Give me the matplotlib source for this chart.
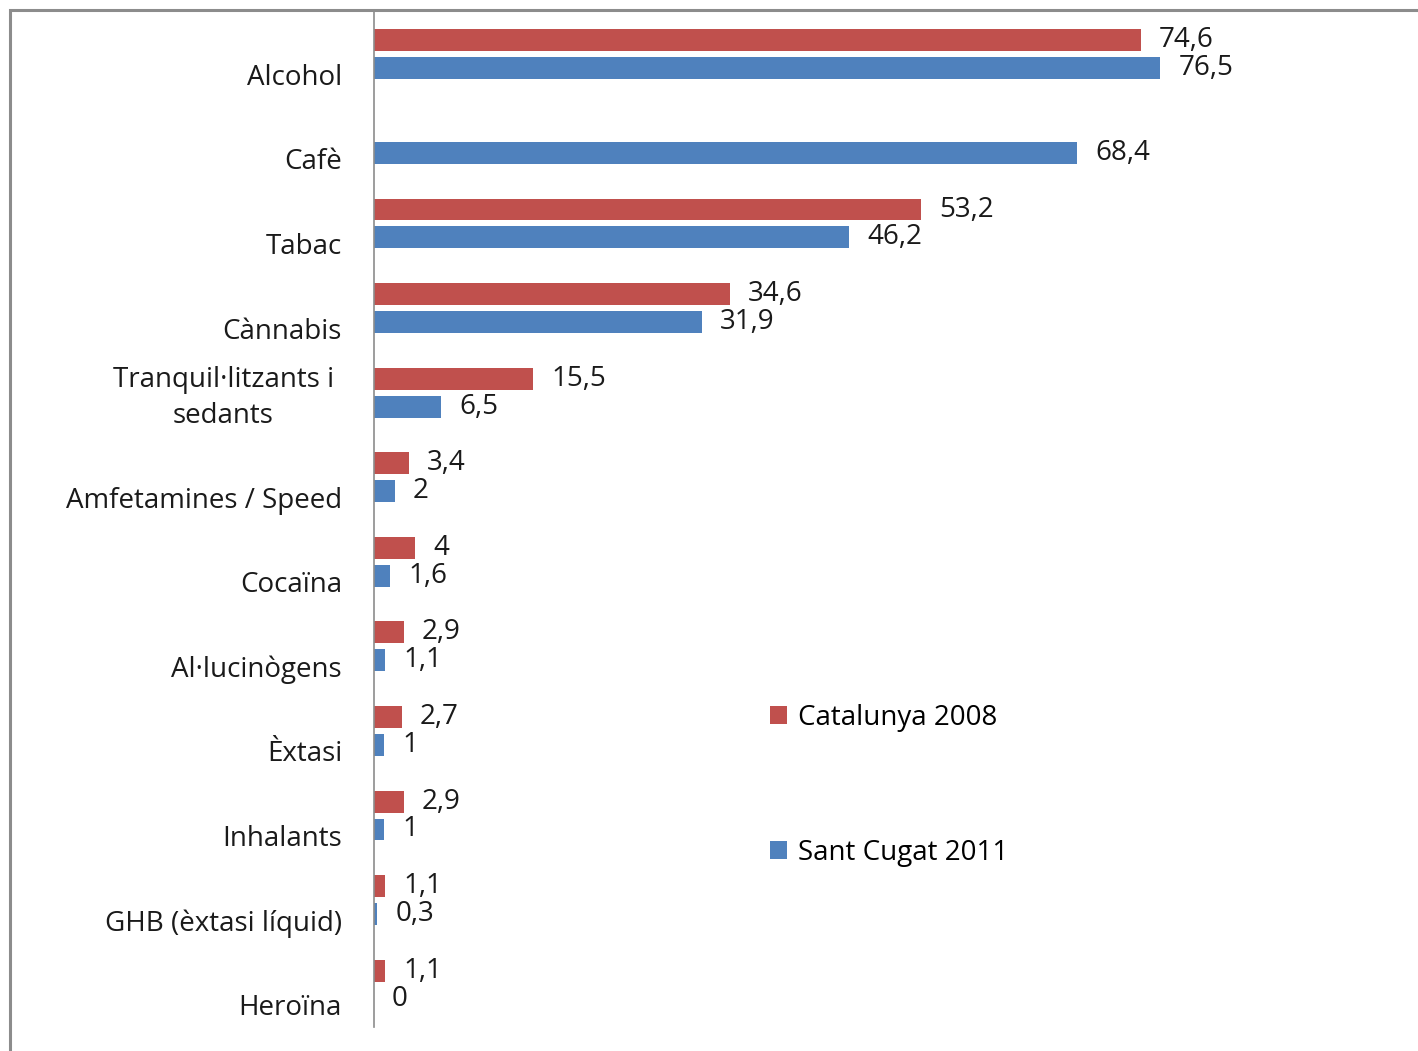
import matplotlib.pyplot as plt
import matplotlib.transforms as mtransforms
import numpy as np

plt.rcParams['font.family'] = ['Open Sans', 'DejaVu Sans']

categories = ['Alcohol', 'Cafè', 'Tabac', 'Cànnabis', 'Tranquil·litzants i\nsedants',
              'Amfetamines / Speed', 'Cocaïna', 'Al·lucinògens', 'Èxtasi',
              'Inhalants', 'GHB (èxtasi líquid)', 'Heroïna']
catalunya_2008 = [74.6, np.nan, 53.2, 34.6, 15.5, 3.4, 4, 2.9, 2.7, 2.9, 1.1, 1.1]
sant_cugat_2011 = [76.5, 68.4, 46.2, 31.9, 6.5, 2, 1.6, 1.1, 1, 1, 0.3, 0]

red = '#C0504D'
blue = '#4F81BD'
fs = 20
txt = '#1a1a1a'


def fmt(v):
    if np.isnan(v):
        return ''
    return f'{v:g}'.replace('.', ',')


fig = plt.figure(figsize=(14.18, 10.51), dpi=100)
ax = fig.add_axes([374 / 1418, 1 - 1027 / 1051, (1402 - 374) / 1418, (1027 - 12) / 1051])

# marco gris alrededor del gráfico
fig.patches.append(plt.Rectangle((9.5 / 1418, -0.05), 1.2, 1 - 10 / 1051 + 0.05,
                                 transform=fig.transFigure, fill=False,
                                 edgecolor='#8c8c8c', linewidth=2.2))

y = np.arange(len(categories))
h = 0.26
off = 0.165
b1 = ax.barh(y - off, catalunya_2008, height=h, color=red, label='Catalunya 2008')
b2 = ax.barh(y + off, sant_cugat_2011, height=h, color=blue, label='Sant Cugat 2011')

ax.bar_label(b1, labels=[fmt(v) for v in catalunya_2008], padding=13, fontsize=fs, color=txt)
ax.bar_label(b2, labels=[fmt(v) for v in sant_cugat_2011], padding=13, fontsize=fs, color=txt)

ax.set_xlim(0, (1402 - 374) / 10.28)
ax.set_ylim(len(categories) - 0.5, -0.5)
ax.set_xticks([])
ax.set_yticks(y)
ax.set_yticklabels(categories, fontsize=fs, color=txt)
ax.tick_params(axis='y', length=0, pad=23)

# las etiquetas de categoría quedan un poco por debajo del centro
for lab in ax.get_yticklabels():
    if '\n' in lab.get_text():
        dx, dy = -6 / 72, 1.5 / 72
        lab.set_multialignment('center')
        lab.set_linespacing(1.4)
    else:
        dx, dy = 0, -14.4 / 72
    lab.set_transform(lab.get_transform() + mtransforms.ScaledTranslation(dx, dy, fig.dpi_scale_trans))

for s in ['top', 'right', 'bottom']:
    ax.spines[s].set_visible(False)
ax.spines['left'].set_color('#8c8c8c')
ax.spines['left'].set_linewidth(1.2)

ax.legend(loc='upper left', bbox_to_anchor=(770 / 1418, 1 - 704 / 1051),
          bbox_transform=fig.transFigure, frameon=False, fontsize=fs,
          handlelength=0.6, handleheight=0.6, handletextpad=0.4,
          labelspacing=3.85, borderaxespad=0, borderpad=0)

fig.savefig('out.png', dpi=100)
